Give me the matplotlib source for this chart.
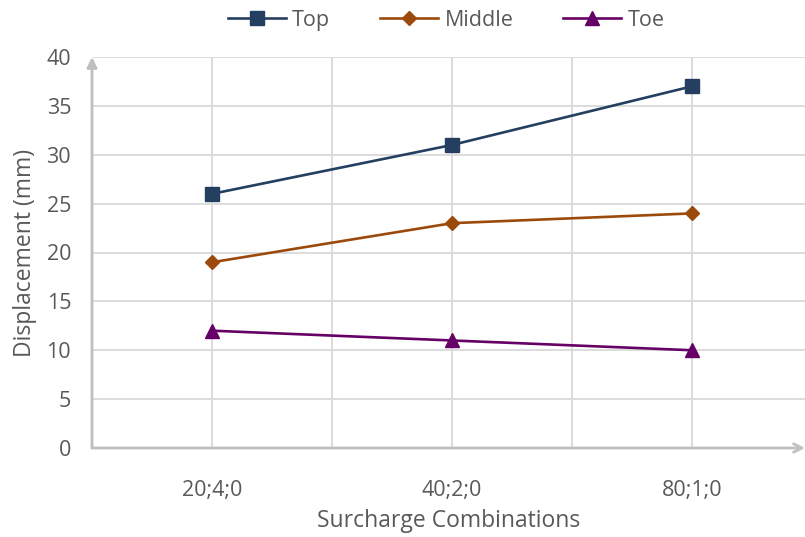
import matplotlib.pyplot as plt

plt.rcParams['font.family'] = ['Open Sans', 'DejaVu Sans']

# surcharge combinations and measured displacements (mm)
combos = ['20;4;0', '40;2;0', '80;1;0']
top = [26, 31, 37]
middle = [19, 23, 24]
toe = [12, 11, 10]

text_col = '#595959'
grid_col = '#D9D9D9'
axis_col = '#BFBFBF'

fig = plt.figure(figsize=(8.05, 5.37), dpi=100)
ax = fig.add_axes([92 / 805, 89 / 537, 713 / 805, 391 / 537])

x = range(len(combos))
ax.plot(x, top, color='#243F60', lw=1.9, marker='s', ms=10, label='Top')
ax.plot(x, middle, color='#9C4A0C', lw=1.9, marker='D', ms=7.5, label='Middle')
ax.plot(x, toe, color='#660066', lw=1.9, marker='^', ms=10, label='Toe')

ax.set_xlim(-0.5, 2.5 - 7 / 240)
ax.set_ylim(0, 40)
ax.set_yticks(range(0, 41, 5))
ax.set_xticks(list(x))
ax.set_xticklabels(combos)

# grid: horizontal every 5, vertical at categories and between them
for y in range(5, 41, 5):
    ax.axhline(y, color=grid_col, lw=1.3, zorder=0)
for xv in [0, 0.5, 1, 1.5, 2]:
    ax.axvline(xv, color=grid_col, lw=1.3, zorder=0)

for s in ax.spines.values():
    s.set_visible(False)

# axis lines with arrow heads
ax.annotate('', xy=(0, 1.0), xytext=(0, 0), xycoords='axes fraction',
            arrowprops=dict(arrowstyle='-|>,head_length=0.6,head_width=0.3',
                            color=axis_col, lw=2, shrinkA=0, shrinkB=0))
ax.annotate('', xy=(1.0, 0), xytext=(0, 0), xycoords='axes fraction',
            arrowprops=dict(arrowstyle='->,head_length=0.6,head_width=0.3',
                            color=axis_col, lw=2, shrinkA=0, shrinkB=0))

ax.tick_params(axis='both', length=0, labelsize=15.5, colors=text_col)
ax.tick_params(axis='x', pad=23)
ax.tick_params(axis='y', pad=15)

ax.set_xlabel('Surcharge Combinations', fontsize=16.5, color=text_col, labelpad=6)
ax.set_ylabel('Displacement (mm)', fontsize=16.5, color=text_col, labelpad=7)

fig.legend(loc='upper center', bbox_to_anchor=(446 / 805, 1.018), ncol=3,
           frameon=False, fontsize=15.5, labelcolor=text_col, handlelength=2.7,
           columnspacing=2.3, handletextpad=0.3)

fig.savefig('out.png', dpi=100)
